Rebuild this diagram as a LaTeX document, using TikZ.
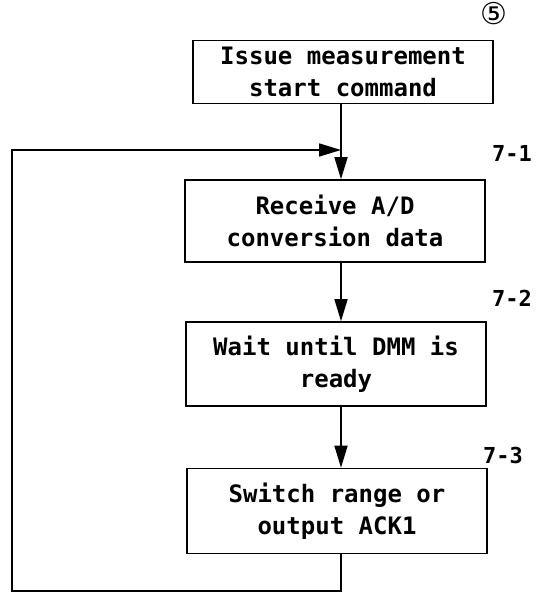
\documentclass[tikz,border=0pt]{standalone}
\usepackage{fontspec}
\setmainfont{DejaVu Sans}
\setmonofont{DejaVu Sans Mono}
\usetikzlibrary{arrows.meta}

\begin{document}
\begin{tikzpicture}[
    x=1pt, y=-1pt,
    block/.style={draw, line width=1.6pt, minimum width=300pt, inner sep=0pt,
        align=center, font=\ttfamily\bfseries\fontsize{24}{32}\selectfont},
    steplabel/.style={font=\ttfamily\bfseries\fontsize{22}{24}\selectfont},
    arrow/.style={draw, line width=1.6pt, -{Triangle[length=22pt,width=13pt]}}
]
    \useasboundingbox (0,0) rectangle (536,593);

    % process boxes
    \node[block, minimum height=63pt] (issue) at (343,72) {Issue measurement\\start command};
    \node[block, minimum height=82pt] (receive) at (335,221) {Receive A/D\\conversion data};
    \node[block, minimum height=84pt] (wait) at (336,364) {Wait until DMM is\\ready};
    \node[block, minimum height=85pt] (switch) at (337,511) {Switch range or\\output ACK1};

    % step numbers
    \node[font=\fontsize{30}{32}\selectfont] (mark) at (494,14) {⑤};
    \node[steplabel] (lab1) at (512,153) {7-1};
    \node[steplabel] (lab2) at (512,298) {7-2};
    \node[steplabel] (lab3) at (503,455) {7-3};

    % main flow
    \coordinate (merge) at (341,150);
    \coordinate (corner) at (12,591);
    \draw[line width=1.6pt] (issue.south -| merge) -- (merge);
    \draw[arrow] (merge) -- (merge |- receive.north);
    \draw[arrow] (receive.south -| merge) -- (merge |- wait.north);
    \draw[arrow] (wait.south -| merge) -- (merge |- switch.north);

    % return loop
    \draw[arrow] (switch.south -| merge) |- (corner) |- (merge);
\end{tikzpicture}
\end{document}
